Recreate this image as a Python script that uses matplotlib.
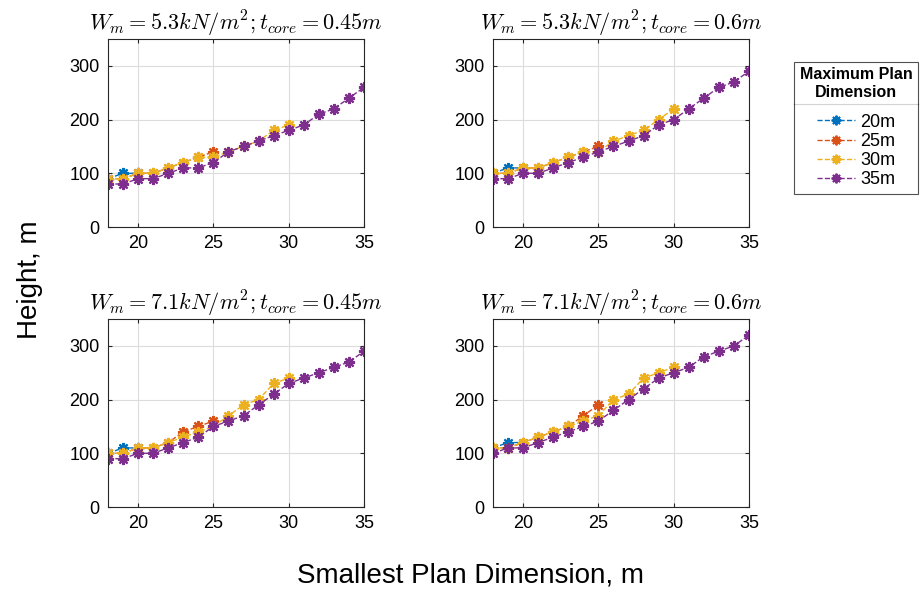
import numpy as np
import matplotlib
matplotlib.use('Agg')
import matplotlib.pyplot as plt
from matplotlib.lines import Line2D

plt.rcParams['font.family'] = ['Liberation Sans', 'DejaVu Sans']
plt.rcParams['mathtext.fontset'] = 'cm'

# plan dimensions (legend) and MATLAB default colours
dims = ['20m', '25m', '30m', '35m']
colors = ['#0072BD', '#D95319', '#EDB120', '#7E2F8E']

titles = [r'$W_m = 5.3kN/m^2; t_{core} = 0.45m$',
          r'$W_m = 5.3kN/m^2; t_{core} = 0.6m$',
          r'$W_m = 7.1kN/m^2; t_{core} = 0.45m$',
          r'$W_m = 7.1kN/m^2; t_{core} = 0.6m$']

x20 = [18, 19, 20]
x25 = list(range(18, 26))
x30 = list(range(18, 31))
x35 = list(range(18, 36))

# panel 1: W=5.3, t=0.45
p1_20 = [90, 100, 100]
p1_25 = [90, 90, 100, 100, 110, 120, 130, 140]
p1_30 = [90, 90, 100, 100, 110, 120, 130, 130, 140, 150, 160, 180, 190]
p1_35 = [80, 80, 90, 90, 100, 110, 110, 120, 140, 150, 160, 170, 180, 190, 210, 220, 240, 260]

# panel 2: W=5.3, t=0.6
p2_20 = [100, 110, 110]
p2_25 = [100, 100, 110, 110, 120, 130, 140, 150]
p2_30 = [100, 100, 110, 110, 120, 130, 140, 140, 160, 170, 180, 200, 220]
p2_35 = [90, 90, 100, 100, 110, 120, 130, 140, 150, 160, 170, 190, 200, 220, 240, 260, 270, 290]

# panel 3: W=7.1, t=0.45
p3_20 = [100, 110, 110]
p3_25 = [100, 100, 110, 110, 120, 140, 150, 160]
p3_30 = [100, 100, 110, 110, 120, 130, 140, 150, 170, 190, 200, 230, 240]
p3_35 = [90, 90, 100, 100, 110, 120, 130, 150, 160, 170, 190, 210, 230, 240, 250, 260, 270, 290]

# panel 4: W=7.1, t=0.6
p4_20 = [110, 120, 120]
p4_25 = [110, 110, 120, 130, 140, 150, 170, 190]
p4_30 = [110, 110, 120, 130, 140, 150, 160, 170, 200, 210, 240, 250, 260]
p4_35 = [100, 110, 110, 120, 130, 140, 150, 160, 180, 200, 220, 240, 250, 260, 280, 290, 300, 320]

panels = [(p1_20, p1_25, p1_30, p1_35),
          (p2_20, p2_25, p2_30, p2_35),
          (p3_20, p3_25, p3_30, p3_35),
          (p4_20, p4_25, p4_30, p4_35)]
xs = [x20, x25, x30, x35]

star = (8, 2, 0)  # asterisk like MATLAB '*'

fig = plt.figure(figsize=(9.21, 5.9), dpi=100)
W, H = 921, 590
boxes = [(108, 39, 256, 188), (493, 39, 256, 188),
         (108, 319, 256, 188), (493, 319, 256, 188)]

for (l, t, w, h), ttl, series in zip(boxes, titles, panels):
    ax = fig.add_axes([l / W, 1 - (t + h) / H, w / W, h / H])
    for x, y, c in zip(xs, series, colors):
        ax.plot(x, y, ls='--', marker=star, color=c, lw=1.0, ms=8, mew=1.6)
    ax.set_xlim(18, 35)
    ax.set_ylim(0, 350)
    ax.set_xticks([20, 25, 30, 35])
    ax.set_yticks([0, 100, 200, 300])
    ax.grid(True, color='#dcdcdc', lw=0.8)
    ax.set_axisbelow(True)
    ax.tick_params(direction='in', labelsize=13, length=3, color='#262626',
                   top=True, right=True, pad=6)
    for s in ax.spines.values():
        s.set_color('#262626')
        s.set_linewidth(0.8)
    ax.set_title(ttl, fontsize=16, pad=6)

fig.text(30 / W, 1 - 280 / H, 'Height, m', rotation=90, fontsize=20,
         ha='center', va='center')
fig.text(470 / W, 1 - 575 / H, 'Smallest Plan Dimension, m', fontsize=20,
         ha='center', va='center')

handles = [Line2D([], [], ls='--', marker=star, color=c, lw=1.0, ms=7, mew=1.4) for c in colors]
leg = fig.legend(handles, dims, loc='upper right', bbox_to_anchor=(918 / W, 1 - 62 / H),
                 title='Maximum Plan\nDimension', fontsize=13, frameon=True,
                 fancybox=False, edgecolor='#262626', handlelength=2.1,
                 labelspacing=0.12, borderpad=0.3, handletextpad=0.3,
                 borderaxespad=0)
leg.get_title().set_fontweight('bold')
leg.get_title().set_fontsize(11.5)
leg.get_title().set_multialignment('center')
leg._legend_box.align = 'center'
leg._legend_box.sep = 10
leg.get_frame().set_linewidth(0.8)

# separator line below the legend title
fig.canvas.draw()
r = fig.canvas.get_renderer()
fb = leg.get_frame().get_window_extent(r)
tb = leg.get_title().get_window_extent(r)
ysep = (round(tb.y0 - 4) + 0.5) / fig.bbox.height
fig.add_artist(Line2D([fb.x0 / fig.bbox.width, fb.x1 / fig.bbox.width], [ysep, ysep],
                      color='#262626', lw=0.8, transform=fig.transFigure))

fig.savefig('out.png', dpi=100)
